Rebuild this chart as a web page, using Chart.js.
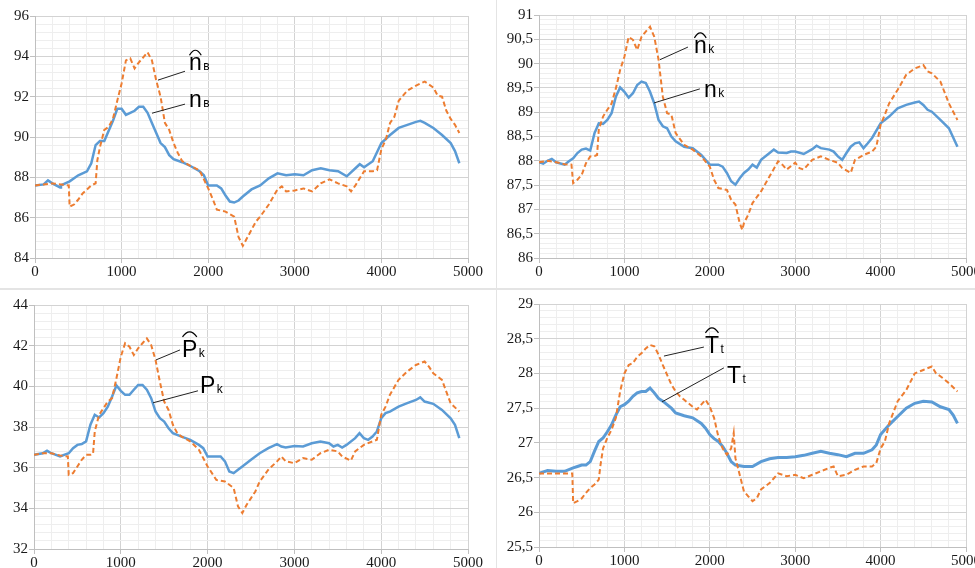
<!DOCTYPE html>
<html>
<head>
<meta charset="utf-8">
<script src="https://cdn.jsdelivr.net/npm/chart.js@4.4.1/dist/chart.umd.min.js"></script>
<style>
  html, body { margin:0; padding:0; background:#fff; width:975px; height:568px; overflow:hidden; }
  canvas { position:absolute; }
  .sep { position:absolute; background:#e4e4e4; }
</style>
</head>
<body>
<div class="sep" style="left:0;top:288px;width:975px;height:2px;"></div>
<div class="sep" style="left:496px;top:0;width:1px;height:568px;"></div>
<canvas id="c1" width="496" height="287" style="left:0;top:0;"></canvas>
<canvas id="c2" width="478" height="287" style="left:497px;top:0;"></canvas>
<canvas id="c3" width="496" height="292" style="left:0;top:290px;"></canvas>
<canvas id="c4" width="478" height="292" style="left:497px;top:290px;"></canvas>
<script>
// ---------- DATA ----------
// Panel 1: n_в and n̂_в
const nvX = [0,100,150,200,290,300,400,500,600,650,700,750,800,820,900,950,1000,1050,1100,1150,1200,1250,1300,1350,1400,1450,1500,1550,1600,1700,1800,1900,1950,2000,2050,2100,2150,2200,2250,2300,2350,2400,2500,2600,2700,2800,2900,3000,3100,3200,3300,3400,3500,3600,3700,3750,3800,3900,4000,4100,4200,4300,4400,4450,4500,4600,4700,4800,4850,4900];
const nvY = [87.6,87.65,87.85,87.7,87.5,87.6,87.8,88.1,88.3,88.7,89.6,89.8,89.8,90.0,90.8,91.4,91.4,91.1,91.2,91.3,91.5,91.5,91.2,90.7,90.2,89.7,89.5,89.1,88.9,88.75,88.55,88.3,88.1,87.6,87.6,87.6,87.45,87.1,86.8,86.75,86.85,87.05,87.4,87.6,87.95,88.2,88.1,88.15,88.1,88.35,88.45,88.35,88.3,88.05,88.45,88.65,88.5,88.8,89.7,90.1,90.45,90.6,90.75,90.8,90.7,90.45,90.1,89.7,89.3,88.7];
const nvHatX = [0,100,200,300,390,400,450,500,550,600,650,700,720,750,800,850,900,950,1000,1050,1100,1150,1200,1250,1300,1350,1400,1450,1500,1550,1600,1650,1700,1800,1900,2000,2050,2100,2200,2300,2350,2400,2450,2500,2550,2600,2700,2800,2850,2900,3000,3100,3200,3300,3400,3500,3600,3650,3700,3750,3800,3900,3950,4000,4050,4100,4150,4200,4300,4400,4500,4600,4650,4700,4750,4800,4850,4900];
const nvHatY = [87.6,87.65,87.7,87.65,87.6,86.55,86.65,86.9,87.2,87.4,87.6,87.7,88.85,89.5,90.35,90.5,90.9,91.8,92.65,93.8,93.9,93.4,93.7,93.95,94.2,93.8,92.8,92.0,90.7,90.35,89.7,89.2,88.8,88.55,88.35,87.45,86.95,86.4,86.3,86.05,85.05,84.6,85.0,85.4,85.8,86.05,86.65,87.4,87.55,87.3,87.35,87.45,87.3,87.7,87.9,87.7,87.55,87.3,87.6,87.95,88.3,88.3,88.35,89.4,89.85,90.7,91.0,91.8,92.3,92.55,92.75,92.45,92.05,92.0,91.3,90.9,90.6,90.2];

// Panel 2: n_k and n̂_k
const nkX = [0,50,100,150,200,300,350,400,450,500,550,600,650,700,750,800,850,900,950,1000,1050,1100,1150,1200,1250,1300,1350,1400,1450,1500,1550,1600,1700,1800,1900,1950,2000,2100,2150,2200,2250,2300,2350,2400,2450,2500,2550,2600,2700,2750,2800,2900,2950,3000,3100,3200,3250,3300,3400,3450,3500,3550,3600,3650,3700,3750,3800,3850,3900,4000,4100,4200,4300,4400,4450,4500,4550,4600,4700,4800,4900];
const nkY = [87.97,87.94,88.0,88.04,87.97,87.92,87.99,88.05,88.16,88.23,88.25,88.21,88.57,88.77,88.76,88.84,88.98,89.32,89.51,89.42,89.3,89.39,89.56,89.63,89.6,89.42,89.18,88.84,88.71,88.67,88.5,88.4,88.29,88.26,88.12,88.02,87.92,87.92,87.88,87.75,87.58,87.51,87.64,87.75,87.82,87.92,87.86,88.02,88.16,88.23,88.17,88.16,88.19,88.19,88.14,88.24,88.31,88.26,88.23,88.19,88.09,88.02,88.16,88.29,88.36,88.38,88.26,88.36,88.47,88.77,88.91,89.08,89.15,89.2,89.22,89.15,89.05,89.01,88.84,88.67,88.29];
const nkHatX = [0,100,200,300,380,400,450,500,550,600,650,680,700,750,800,850,900,950,1000,1050,1100,1150,1200,1250,1300,1350,1400,1450,1500,1550,1600,1700,1800,1900,2000,2050,2100,2200,2250,2300,2350,2380,2400,2450,2500,2600,2700,2800,2850,2900,3000,3050,3100,3200,3300,3400,3500,3550,3650,3700,3800,3900,3950,4000,4050,4100,4200,4300,4400,4500,4550,4600,4700,4800,4900];
const nkHatY = [87.97,88.0,87.97,87.93,87.92,87.54,87.61,87.71,87.95,88.09,88.1,88.12,88.64,88.91,89.05,89.18,89.49,89.87,90.14,90.55,90.49,90.28,90.55,90.66,90.76,90.55,90.08,89.32,88.98,88.95,88.57,88.33,88.23,88.09,87.88,87.61,87.44,87.4,87.2,87.1,86.72,86.58,86.72,86.89,87.13,87.37,87.68,87.99,87.92,87.82,87.96,87.85,87.82,88.02,88.09,88.02,87.96,87.85,87.75,88.02,88.12,88.19,88.29,88.74,88.95,89.18,89.46,89.77,89.9,89.97,89.84,89.8,89.63,89.18,88.84];

// Panel 3: P_k and P̂_k
const pkX = [0,100,150,200,300,400,450,500,550,600,650,700,750,800,850,900,950,1000,1050,1100,1150,1200,1250,1300,1350,1400,1450,1500,1550,1600,1700,1800,1900,1950,2000,2100,2150,2200,2250,2300,2350,2400,2500,2600,2700,2800,2850,2900,3000,3100,3200,3300,3400,3450,3500,3550,3600,3700,3750,3800,3850,3900,3950,4000,4050,4100,4200,4300,4400,4450,4500,4600,4700,4800,4850,4900];
const pkY = [36.63,36.71,36.83,36.71,36.55,36.71,36.96,37.12,37.16,37.29,38.11,38.6,38.47,38.68,39.0,39.5,40.04,39.78,39.58,39.58,39.83,40.07,40.07,39.83,39.42,38.76,38.43,38.27,37.94,37.7,37.53,37.37,37.12,36.96,36.55,36.55,36.55,36.31,35.81,35.73,35.9,36.06,36.39,36.71,36.96,37.16,37.04,36.99,37.07,37.04,37.2,37.29,37.2,37.04,37.12,36.99,37.12,37.45,37.7,37.45,37.37,37.53,37.78,38.43,38.68,38.76,39.0,39.17,39.33,39.46,39.25,39.14,38.84,38.43,38.11,37.45];
const pkHatX = [0,100,200,300,390,400,450,500,550,600,650,680,700,750,800,850,900,950,1000,1050,1100,1150,1200,1250,1300,1350,1400,1450,1500,1550,1600,1650,1700,1800,1900,2000,2050,2100,2200,2300,2350,2400,2450,2500,2550,2600,2700,2800,2850,2900,3000,3100,3200,3300,3400,3500,3550,3650,3700,3800,3900,3950,4000,4050,4100,4200,4300,4400,4500,4550,4600,4700,4750,4800,4900];
const pkHatY = [36.63,36.71,36.71,36.6,36.55,35.65,35.73,36.06,36.39,36.63,36.63,36.67,37.78,38.6,38.92,39.25,39.42,40.4,41.46,42.12,41.95,41.54,41.87,42.12,42.36,42.03,41.3,40.23,39.25,38.84,38.11,37.7,37.53,37.29,36.88,36.06,35.73,35.4,35.32,35.0,34.1,33.77,34.18,34.5,34.83,35.32,35.9,36.31,36.55,36.31,36.22,36.47,36.39,36.71,36.88,36.8,36.55,36.34,36.8,37.12,37.29,37.37,38.6,39.0,39.58,40.32,40.73,41.05,41.22,40.97,40.64,40.32,39.74,39.17,38.76];

// Panel 4: T_t and T̂_t
const ttX = [0,100,200,300,400,450,500,550,600,650,700,750,800,850,900,950,1000,1050,1100,1150,1200,1250,1300,1350,1400,1450,1500,1550,1600,1700,1800,1900,1950,2000,2050,2100,2150,2200,2250,2300,2400,2500,2600,2700,2800,2900,3000,3100,3200,3300,3400,3500,3600,3700,3800,3900,3950,4000,4100,4200,4300,4400,4500,4600,4700,4800,4850,4900];
const ttY = [26.56,26.6,26.59,26.59,26.64,26.66,26.68,26.68,26.73,26.88,27.02,27.07,27.16,27.26,27.4,27.52,27.55,27.6,27.67,27.72,27.74,27.74,27.79,27.72,27.64,27.6,27.55,27.5,27.43,27.39,27.36,27.28,27.21,27.12,27.06,27.02,26.95,26.85,26.73,26.68,26.66,26.66,26.73,26.77,26.79,26.79,26.8,26.82,26.85,26.88,26.85,26.83,26.8,26.85,26.85,26.9,26.97,27.12,27.26,27.38,27.5,27.57,27.6,27.59,27.52,27.48,27.4,27.28];
const ttHatX = [0,100,200,300,390,400,450,500,550,600,650,700,720,750,800,850,900,950,1000,1050,1100,1150,1200,1250,1300,1350,1400,1450,1500,1550,1600,1650,1700,1750,1800,1850,1900,1950,2000,2050,2100,2150,2200,2250,2280,2300,2350,2400,2450,2500,2550,2600,2700,2750,2800,2900,3000,3100,3200,3300,3400,3450,3500,3600,3700,3800,3900,3950,4000,4050,4100,4200,4300,4400,4500,4600,4650,4700,4800,4900];
const ttHatY = [26.56,26.56,26.56,26.56,26.56,26.13,26.16,26.2,26.28,26.35,26.4,26.47,26.68,26.92,27.07,27.19,27.36,27.74,28.0,28.12,28.15,28.24,28.29,28.36,28.41,28.39,28.27,28.12,27.98,27.84,27.74,27.67,27.62,27.57,27.52,27.48,27.55,27.62,27.52,27.36,27.09,26.92,26.83,26.92,27.14,26.78,26.54,26.3,26.23,26.16,26.2,26.33,26.42,26.49,26.56,26.52,26.54,26.49,26.54,26.59,26.64,26.66,26.52,26.54,26.61,26.66,26.66,26.71,26.92,27.02,27.28,27.6,27.76,28.0,28.05,28.1,28.0,27.96,27.86,27.74];

// Axis ranges (major / minor grid steps)
const xTicksMajor = 1000;

// ---------- RENDERING ----------
const BLUE = '#5b9bd5', ORANGE = '#ed7d31';
const SERIF = '"Liberation Serif", "Times New Roman", serif';
const SANS = '"Liberation Sans", Arial, sans-serif';

function zip(xs, ys) { return xs.map((x, i) => ({ x: x, y: ys[i] })); }
function isMajor(v, m) { const r = v / m; return Math.abs(r - Math.round(r)) < 1e-6; }
function fmt(v) { return String(Math.round(v * 10) / 10).replace('.', ','); }

const annotPlugin = {
  id: 'annot',
  afterDatasetsDraw(chart, args, opts) {
    if (!opts || !opts.items) return;
    const ctx = chart.ctx, xs = chart.scales.x, ys = chart.scales.y;
    ctx.save();
    for (const it of opts.items) {
      // leader line
      ctx.strokeStyle = '#222';
      ctx.lineWidth = 1;
      ctx.beginPath();
      ctx.moveTo(xs.getPixelForValue(it.l[0]), ys.getPixelForValue(it.l[1]));
      ctx.lineTo(xs.getPixelForValue(it.l[2]), ys.getPixelForValue(it.l[3]));
      ctx.stroke();
      // main letter
      const px = xs.getPixelForValue(it.x), py = ys.getPixelForValue(it.y);
      ctx.fillStyle = '#000';
      ctx.textBaseline = 'alphabetic';
      ctx.textAlign = 'left';
      ctx.font = '23px ' + SANS;
      ctx.fillText(it.t, px, py);
      const w = ctx.measureText(it.t).width;
      ctx.font = '12px ' + SANS;
      ctx.fillText(it.s, px + w + 1.5, py);
      if (it.hat) {
        const b = it.cap ? py - 20 : py - 15;
        ctx.lineWidth = 1.2;
        ctx.strokeStyle = '#000';
        ctx.beginPath();
        ctx.moveTo(px + 0.5, b);
        ctx.quadraticCurveTo(px + w / 2, b - 10, px + w - 0.5, b);
        ctx.stroke();
      }
    }
    ctx.restore();
  }
};
Chart.register(annotPlugin);

function makeChart(id, p) {
  const ctx = document.getElementById(id).getContext('2d');
  return new Chart(ctx, {
    type: 'line',
    data: {
      datasets: [
        { label: p.hatName, data: zip(p.hx, p.hy), borderColor: ORANGE, borderWidth: 2, borderDash: [5, 3],
          pointRadius: 0, tension: 0, fill: false },
        { label: p.name, data: zip(p.bx, p.by), borderColor: BLUE, borderWidth: p.bw || 2.5,
          pointRadius: 0, tension: 0, fill: false }
      ]
    },
    options: {
      responsive: false,
      animation: false,
      devicePixelRatio: 1,
      layout: { padding: { left: 0, right: p.padR, top: p.padT, bottom: 0 } },
      plugins: { legend: { display: false }, tooltip: { enabled: false }, annot: { items: p.annots } },
      scales: {
        x: {
          type: 'linear', min: 0, max: 5000,
          ticks: {
            stepSize: 200, autoSkip: false, maxRotation: 0, minRotation: 0,
            callback: v => isMajor(v, xTicksMajor) ? String(v) : '',
            font: { family: SERIF, size: 15 }, color: '#1a1a1a', padding: 0
          },
          grid: {
            color: c => isMajor(c.tick.value, xTicksMajor) ? '#d3d3d3' : '#eeeeee',
            tickColor: c => isMajor(c.tick.value, xTicksMajor) ? '#c0c0c0' : 'rgba(0,0,0,0)',
            tickLength: 5, lineWidth: 1
          },
          border: { color: '#bfbfbf', width: 1 },
          afterFit: s => { s.height = p.xH; s.paddingLeft = 0; s.paddingRight = 0; }
        },
        y: {
          min: p.yMin, max: p.yMax,
          ticks: {
            stepSize: p.yMinor, autoSkip: false,
            callback: v => isMajor(v, p.yMajor) ? fmt(v) : '',
            font: { family: SERIF, size: 15 }, color: '#1a1a1a', padding: 1
          },
          grid: {
            color: c => isMajor(c.tick.value, p.yMajor) ? '#d3d3d3' : '#eeeeee',
            tickColor: c => isMajor(c.tick.value, p.yMajor) ? '#c0c0c0' : 'rgba(0,0,0,0)',
            tickLength: 5, lineWidth: 1
          },
          border: { color: '#bfbfbf', width: 1 },
          afterFit: s => { s.width = p.yW; s.paddingTop = 0; s.paddingBottom = 0; }
        }
      }
    }
  });
}

makeChart('c1', {
  name: 'nв', hatName: 'n̂в', bx: nvX, by: nvY, hx: nvHatX, hy: nvHatY,
  yMin: 84, yMax: 96, yMajor: 2, yMinor: 0.4,
  yW: 35, padR: 28, padT: 16, xH: 29,
  annots: [
    { t: 'n', s: 'в', hat: true, x: 1778, y: 93.31, l: [1420, 92.82, 1732, 93.26] },
    { t: 'n', s: 'в', x: 1778, y: 91.48, l: [1351, 91.18, 1732, 91.63] }
  ]
});
makeChart('c2', {
  name: 'nk', hatName: 'n̂k', bx: nkX, by: nkY, hx: nkHatX, hy: nkHatY,
  yMin: 86, yMax: 91, yMajor: 0.5, yMinor: 0.1,
  yW: 42, padR: 9, padT: 15, xH: 29,
  annots: [
    { t: 'n', s: 'k', hat: true, x: 1814, y: 90.22, l: [1416, 90.08, 1744, 90.34] },
    { t: 'n', s: 'k', x: 1931, y: 89.32, l: [1346, 89.19, 1884, 89.48] }
  ]
});
makeChart('c3', {
  name: 'Pk', hatName: 'P̂k', bx: pkX, by: pkY, hx: pkHatX, hy: pkHatY,
  yMin: 32, yMax: 44, yMajor: 2, yMinor: 0.4,
  yW: 34, padR: 28, padT: 15, xH: 33,
  annots: [
    { t: 'P', s: 'k', hat: true, cap: true, x: 1705, y: 41.45, l: [1406, 41.3, 1682, 41.79] },
    { t: 'P', s: 'k', cap: true, x: 1912, y: 39.68, l: [1371, 39.19, 1889, 39.78] }
  ]
});
makeChart('c4', {
  name: 'Tt', hatName: 'T̂t', bx: ttX, by: ttY, hx: ttHatX, hy: ttHatY, bw: 3,
  yMin: 25.5, yMax: 29, yMajor: 0.5, yMinor: 0.1,
  yW: 42, padR: 9, padT: 14, xH: 35,
  annots: [
    { t: 'T', s: 't', hat: true, cap: true, x: 1943, y: 28.295, l: [1463, 28.25, 1931, 28.38] },
    { t: 'T', s: 't', cap: true, x: 2200, y: 27.86, l: [1440, 27.59, 2165, 28.08] }
  ]
});
</script>
</body>
</html>
